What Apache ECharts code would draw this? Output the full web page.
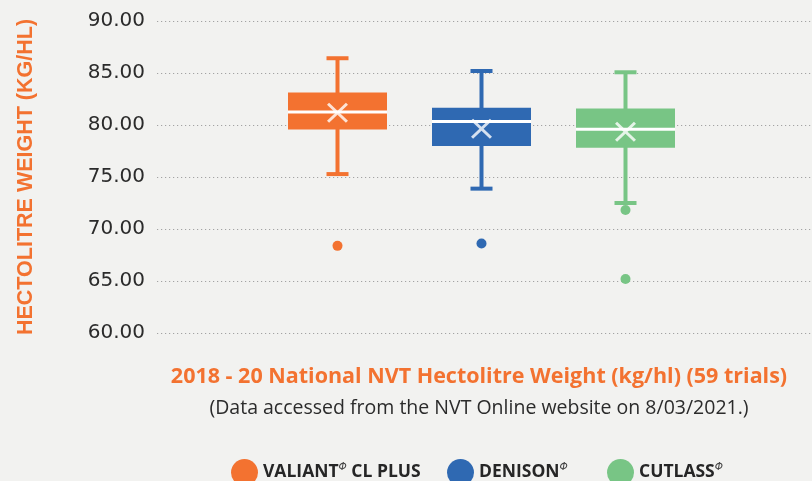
<!DOCTYPE html>
<html><head><meta charset="utf-8">
<script src="https://cdn.jsdelivr.net/npm/echarts@6/dist/echarts.min.js"></script>
<style>html,body{margin:0;padding:0;background:#f2f2f0}#c{width:812px;height:481px}</style>
</head><body><div id="c"></div>
<script>
// ---- data ----
const varieties = ['VALIANT CL PLUS', 'DENISON', 'CUTLASS'];
const whiskerLow = [75.28, 73.88, 72.5];
const quartile1 = [79.57, 77.98, 77.81];
const medians = [81.24, 80.33, 79.58];
const quartile3 = [83.12, 81.67, 81.59];
const whiskerHigh = [86.42, 85.19, 85.07];
const means = [81.17, 79.65, 79.35];
const outliers = [[68.38], [68.6], [71.83, 65.2]];
const yTickLabels = ['60.00', '65.00', '70.00', '75.00', '80.00', '85.00', '90.00'];
const yMin = 60, yMax = 90, yStep = 5;
const titleText = '2018 - 20 National NVT Hectolitre Weight (kg/hl) (59 trials)';
const subtitleText = '(Data accessed from the NVT Online website on 8/03/2021.)';
const yAxisTitle = 'HECTOLITRE WEIGHT (KG/HL)';
const legendParts = { 'VALIANT CL PLUS': ['VALIANT', ' CL PLUS'], 'DENISON': ['DENISON', ''], 'CUTLASS': ['CUTLASS', ''] };

// ---- styles ----
const COLORS = ['#F37230', '#2F69B2', '#78C585'];
const ORANGE = '#F37230';
const BOX_W = 99, CAP_W = 22;
const LEGEND_LEFT = [231, 447, 607];

const boxData = varieties.map((v, i) => [i, whiskerLow[i], quartile1[i], medians[i], quartile3[i], whiskerHigh[i]]);

function renderBox(params, api) {
  const x = api.value(0);
  const lo = api.coord([x, api.value(1)]);
  const q1 = api.coord([x, api.value(2)]);
  const md = api.coord([x, api.value(3)]);
  const q3 = api.coord([x, api.value(4)]);
  const hi = api.coord([x, api.value(5)]);
  const c = COLORS[params.dataIndex];
  const cx = lo[0];
  return {
    type: 'group',
    children: [
      { type: 'line', shape: { x1: cx, y1: hi[1], x2: cx, y2: lo[1] }, style: { stroke: c, lineWidth: 4 } },
      { type: 'line', shape: { x1: cx - CAP_W / 2, y1: hi[1], x2: cx + CAP_W / 2, y2: hi[1] }, style: { stroke: c, lineWidth: 4 } },
      { type: 'line', shape: { x1: cx - CAP_W / 2, y1: lo[1], x2: cx + CAP_W / 2, y2: lo[1] }, style: { stroke: c, lineWidth: 4 } },
      { type: 'rect', shape: { x: cx - BOX_W / 2, y: q3[1], width: BOX_W, height: q1[1] - q3[1] }, style: { fill: c } },
      { type: 'line', shape: { x1: cx - BOX_W / 2, y1: md[1], x2: cx + BOX_W / 2, y2: md[1] }, style: { stroke: '#ffffff', lineWidth: 3 } }
    ]
  };
}

const X_PATH = 'path://M0,2 L2,0 L10,8 L18,0 L20,2 L12,10 L20,18 L18,20 L10,12 L2,20 L0,18 L8,10 Z';

const chart = echarts.init(document.getElementById('c'));
const gridTop = 21, gridBottom = 148;

const series = [
  {
    type: 'custom', name: 'box', xAxisIndex: 1, yAxisIndex: 1,
    renderItem: renderBox, data: boxData, encode: { x: 0, y: [1, 2, 3, 4, 5] }, z: 3
  },
  {
    type: 'scatter', name: 'mean', xAxisIndex: 1, yAxisIndex: 1,
    data: means.map((m, i) => [i, m]), symbol: X_PATH, symbolSize: [21, 20],
    itemStyle: { color: '#ffffff' }, z: 6, silent: true
  }
];
varieties.forEach((v, i) => {
  series.push({
    type: 'scatter', name: v, xAxisIndex: 1, yAxisIndex: 1,
    data: outliers[i].map(o => [i, o]), symbol: 'circle', symbolSize: 10,
    itemStyle: { color: COLORS[i], opacity: 1 }, z: 4
  });
});

const legendRich = {
  b: { fontSize: 17.5, fontWeight: 'bold', color: '#262626', fontFamily: 'Open Sans' },
  s: { fontSize: 10.5, fontStyle: 'italic', color: '#444', fontFamily: 'DejaVu Sans', padding: [0, 0, 10, 0] }
};
const legends = varieties.map((v, i) => ({
  data: [v], left: LEGEND_LEFT[i], top: 459, itemWidth: 27, itemHeight: 27,
  icon: 'circle', padding: 0,
  formatter: name => {
    const p = legendParts[name];
    return '{b|' + p[0] + '}{s|\u03A6}' + (p[1] ? '{b|' + p[1] + '}' : '');
  },
  textStyle: { rich: legendRich }
}));

chart.setOption({
  backgroundColor: '#f2f2f0',
  animation: false,
  grid: [
    { left: 157, right: 0, top: gridTop, bottom: gridBottom },
    { left: 265.5, width: 432, top: gridTop, bottom: gridBottom }
  ],
  xAxis: [
    { type: 'category', gridIndex: 0, data: [''], show: false },
    { type: 'category', gridIndex: 1, data: varieties, show: false, boundaryGap: true }
  ],
  yAxis: [
    {
      type: 'value', gridIndex: 0, min: yMin, max: yMax, interval: yStep,
      axisLine: { show: false }, axisTick: { show: false },
      axisLabel: {
        margin: 12, color: '#2b2b2b', fontSize: 20, fontFamily: 'DejaVu Sans',
        formatter: v => yTickLabels[Math.round((v - yMin) / yStep)]
      },
      splitLine: { show: true, lineStyle: { color: '#a3a3a3', width: 1.2, type: [1.2, 2.8] } },
      name: yAxisTitle, nameLocation: 'middle', nameGap: 120, nameRotate: 90, nameMoveOverlap: false,
      nameTextStyle: { color: ORANGE, fontSize: 21.5, fontWeight: 'bold', fontFamily: 'Liberation Sans' }
    },
    {
      type: 'value', gridIndex: 1, min: yMin, max: yMax, interval: yStep, show: false,
      splitLine: { show: false }
    }
  ],
  legend: legends,
  graphic: [
    {
      type: 'text', x: 479, y: 377,
      style: { text: titleText, fill: ORANGE, font: 'bold 21.5px "Open Sans"', align: 'center', verticalAlign: 'middle' }
    },
    {
      type: 'text', x: 479, y: 408,
      style: { text: subtitleText, fill: '#2b2b2b', font: '19.5px "Open Sans"', align: 'center', verticalAlign: 'middle' }
    }
  ],
  series: series
});
</script></body></html>
